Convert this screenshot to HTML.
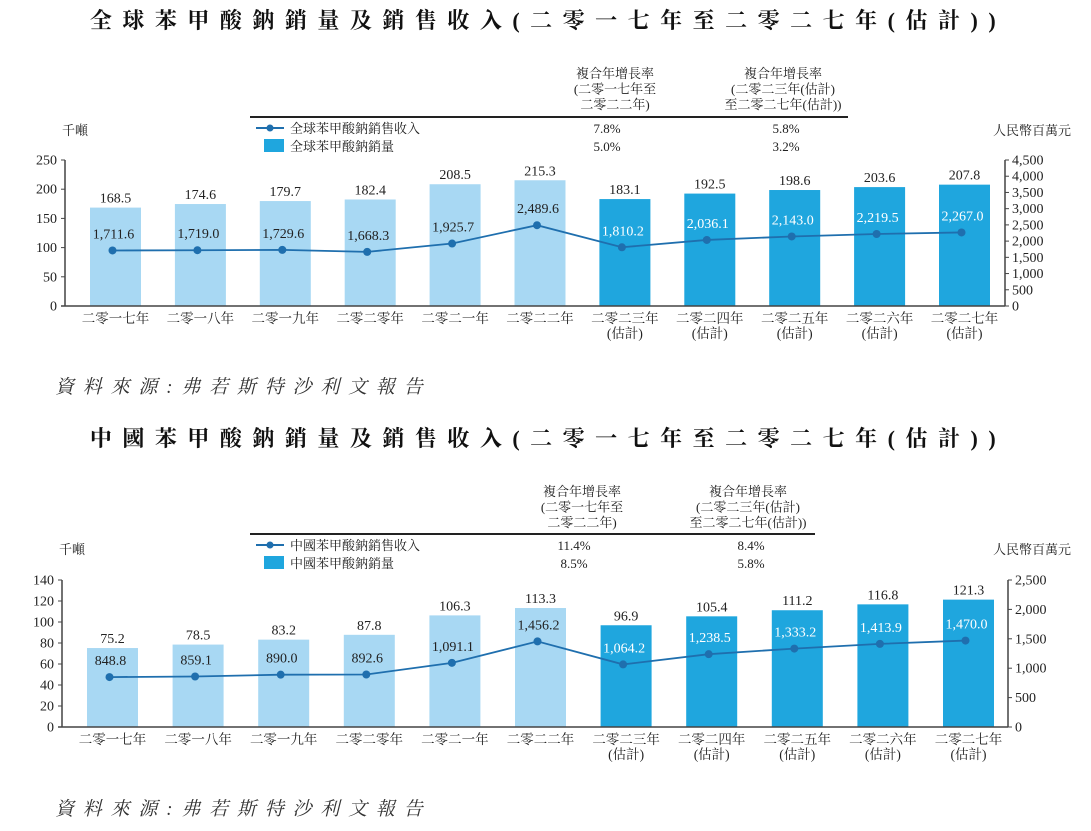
<!DOCTYPE html>
<html><head><meta charset="utf-8"><style>
html,body{margin:0;padding:0;background:#fff;}
svg{display:block;font-family:"Liberation Serif","Noto Serif CJK SC","Noto Sans CJK TC",serif;}
</style></head><body>
<svg id="svg" width="1091" height="831" viewBox="0 0 1091 831">
<g id="top"></g>
<g id="bot"></g>
</svg>
<script>
const categories = ["二零一七年","二零一八年","二零一九年","二零二零年","二零二一年","二零二二年","二零二三年","二零二四年","二零二五年","二零二六年","二零二七年"];
const estimated = [false,false,false,false,false,false,true,true,true,true,true];
const globalVolume = [168.5,174.6,179.7,182.4,208.5,215.3,183.1,192.5,198.6,203.6,207.8];
const globalRevenue = [1711.6,1719.0,1729.6,1668.3,1925.7,2489.6,1810.2,2036.1,2143.0,2219.5,2267.0];
const chinaVolume = [75.2,78.5,83.2,87.8,106.3,113.3,96.9,105.4,111.2,116.8,121.3];
const chinaRevenue = [848.8,859.1,890.0,892.6,1091.1,1456.2,1064.2,1238.5,1333.2,1413.9,1470.0];
const globalLeftTicks = [0,50,100,150,200,250];
const globalRightTicks = [0,500,1000,1500,2000,2500,3000,3500,4000,4500];
const chinaLeftTicks = [0,20,40,60,80,100,120,140];
const chinaRightTicks = [0,500,1000,1500,2000,2500];
const globalCagr = [["7.8%","5.8%"],["5.0%","3.2%"]];
const chinaCagr = [["11.4%","8.4%"],["8.5%","5.8%"]];

const NS="http://www.w3.org/2000/svg";
function mk(parent,tag,attrs,text){const e=document.createElementNS(NS,tag);for(const k in attrs)e.setAttribute(k,attrs[k]);if(text!==undefined)e.textContent=text;parent.appendChild(e);return e;}
function fmt(v){return v.toLocaleString('en-US',{minimumFractionDigits:1,maximumFractionDigits:1});}

function drawChart(g,o){
  const yL=v=>o.y0-(v/o.lMax)*(o.y0-o.yTop);
  const yR=v=>o.y0-(v/o.rMax)*(o.y0-o.yTop);
  const xC=i=>o.x0+i*o.step;
  let t=mk(g,'text',{x:548,y:o.titleY,'text-anchor':'middle','font-size':22,'font-weight':'bold','letter-spacing':10.5,fill:'#111'},o.title);
  
  const hx=[o.c1x,o.c2x];
  const heads=[["複合年增長率","(二零一七年至","二零二二年)"],["複合年增長率","(二零二三年(估計)","至二零二七年(估計))"]];
  heads.forEach((h,j)=>h.forEach((s,k)=>{const e=mk(g,'text',{x:hx[j],y:o.hy+k*15.5,'text-anchor':'middle','font-size':13,fill:'#222'},s);}));
  let ln=mk(g,'line',{x1:250,x2:o.ruleEnd,y1:o.ruleY,y2:o.ruleY,stroke:'#222','stroke-width':2});
  
  const ly1=o.ruleY+16, ly2=o.ruleY+34;
  mk(g,'line',{x1:256,x2:284,y1:ly1-5,y2:ly1-5,stroke:'#1f6fae','stroke-width':2});
  mk(g,'circle',{cx:270,cy:ly1-5,r:3.5,fill:'#1f6fae'});
  let le=mk(g,'text',{x:290,y:ly1,'font-size':13,fill:'#222'},o.legRev);
  let lr=mk(g,'rect',{x:264,y:ly2-12,width:20,height:13,fill:'#1fa6de'});
  le=mk(g,'text',{x:290,y:ly2,'font-size':13,fill:'#222'},o.legVol);
  o.cagr.forEach((row,r)=>row.forEach((s,j)=>{const e=mk(g,'text',{x:hx[j]+(j?3:-8),y:r?ly2:ly1,'text-anchor':'middle','font-size':13,fill:'#222'},s);}));
  let u=mk(g,'text',{x:o.axL-3,y:o.unitY,'font-size':13,fill:'#222'},'千噸');
  u=mk(g,'text',{x:1071,y:o.unitY,'text-anchor':'end','font-size':13,fill:'#222'},'人民幣百萬元');
  o.vol.forEach((v,i)=>{
    const b=mk(g,'rect',{x:xC(i)-25.5,y:yL(v),width:51,height:o.y0-yL(v),fill:estimated[i]?'#1fa6de':'#a8d8f3'});
    
    const l=mk(g,'text',{x:xC(i),y:yL(v)-5,'text-anchor':'middle','font-size':14,fill:'#222'},v.toFixed(1));
    
  });
  let a=mk(g,'line',{x1:o.axL,x2:o.axL,y1:o.yTop,y2:o.y0,stroke:'#444','stroke-width':1.5});
  a=mk(g,'line',{x1:o.axR,x2:o.axR,y1:o.yTop,y2:o.y0,stroke:'#444','stroke-width':1.5});
  a=mk(g,'line',{x1:o.axL-4,x2:o.axR,y1:o.y0,y2:o.y0,stroke:'#444','stroke-width':1.5});
  o.lTicks.forEach(v=>{mk(g,'line',{x1:o.axL-4,x2:o.axL,y1:yL(v),y2:yL(v),stroke:'#444'});const e=mk(g,'text',{x:o.axL-8,y:yL(v)+4.5,'text-anchor':'end','font-size':14,fill:'#222'},String(v));});
  o.rTicks.forEach(v=>{mk(g,'line',{x1:o.axR,x2:o.axR+4,y1:yR(v),y2:yR(v),stroke:'#444'});const e=mk(g,'text',{x:o.axR+7,y:yR(v)+4.5,'font-size':14,fill:'#222'},v.toLocaleString('en-US'));});
  categories.forEach((c,i)=>{
    let e=mk(g,'text',{x:xC(i),y:o.y0+17,'text-anchor':'middle','font-size':13.5,fill:'#222'},c);
    if(estimated[i]){e=mk(g,'text',{x:xC(i),y:o.y0+32,'text-anchor':'middle','font-size':13.5,fill:'#222'},'(估計)');}
  });
  const pts=o.rev.map((v,i)=>(xC(i)-3)+','+yR(v)).join(' ');
  const pl=mk(g,'polyline',{points:pts,fill:'none',stroke:'#1f6fae','stroke-width':1.8});
  
  o.rev.forEach((v,i)=>{
    const c=mk(g,'circle',{cx:xC(i)-3,cy:yR(v),r:4,fill:'#1f6fae'});
    
    const l=mk(g,'text',{x:xC(i)-2,y:yR(v)-12,'text-anchor':'middle','font-size':14,fill:estimated[i]?'#fff':'#222'},fmt(v));
    
  });
  const s=mk(g,'text',{x:55,y:o.srcY,'font-size':19,'font-style':'italic','letter-spacing':8.8,fill:'#333'},'資料來源:弗若斯特沙利文報告');
  
}
drawChart(document.getElementById('top'),{title:'全球苯甲酸鈉銷量及銷售收入(二零一七年至二零二七年(估計))',titleY:28,
  c1x:615,c2x:783,hy:78,ruleY:117,ruleEnd:848,legRev:'全球苯甲酸鈉銷售收入',legVol:'全球苯甲酸鈉銷量',cagr:globalCagr,unitY:135,
  axL:65,axR:1005,yTop:160,y0:306,x0:115.5,step:84.9,lMax:250,rMax:4500,lTicks:globalLeftTicks,rTicks:globalRightTicks,
  vol:globalVolume,rev:globalRevenue,srcY:393});
drawChart(document.getElementById('bot'),{title:'中國苯甲酸鈉銷量及銷售收入(二零一七年至二零二七年(估計))',titleY:446,
  c1x:582,c2x:748,hy:496,ruleY:534,ruleEnd:815,legRev:'中國苯甲酸鈉銷售收入',legVol:'中國苯甲酸鈉銷量',cagr:chinaCagr,unitY:554,
  axL:62,axR:1008,yTop:580,y0:727,x0:112.5,step:85.6,lMax:140,rMax:2500,lTicks:chinaLeftTicks,rTicks:chinaRightTicks,
  vol:chinaVolume,rev:chinaRevenue,srcY:815});
</script>
</body></html>
